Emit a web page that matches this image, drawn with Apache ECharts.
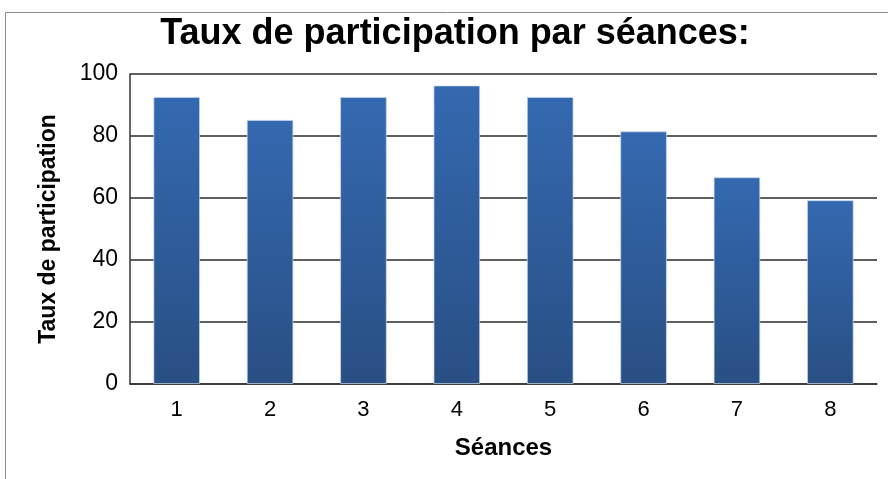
<!DOCTYPE html>
<html>
<head>
<meta charset="utf-8">
<script src="https://cdn.jsdelivr.net/npm/echarts@6/dist/echarts.min.js"></script>
<style>
  html, body { margin: 0; padding: 0; background: #fff; }
  #chart { width: 888px; height: 479px; }
</style>
</head>
<body>
<div id="chart"></div>
<script>
// séances et taux de participation (%)
var seances = ['1', '2', '3', '4', '5', '6', '7', '8'];
var taux = [92.6, 85.2, 92.6, 96.3, 92.6, 81.5, 66.7, 59.3];
var yTicks = [0, 20, 40, 60, 80, 100];

var myChart = echarts.init(document.getElementById('chart'));
var fontFam = '"Liberation Sans", Arial, sans-serif';

var option = {
  animation: false,
  backgroundColor: '#fff',
  graphic: [
    {
      type: 'rect',
      shape: { x: 5.5, y: 12.5, width: 900, height: 500 },
      style: { fill: 'none', stroke: '#8c8c8c', lineWidth: 1 },
      silent: true
    }
  ],
  title: {
    text: 'Taux de participation par séances:',
    left: 450,
    top: 11,
    textAlign: 'center',
    textStyle: { fontFamily: fontFam, fontSize: 36, fontWeight: 'bold', color: '#000' }
  },
  grid: { left: 130, right: 11, top: 74, bottom: 95 },
  xAxis: {
    type: 'category',
    data: seances,
    name: 'Séances',
    nameLocation: 'middle',
    nameGap: 52,
    nameTextStyle: { fontFamily: fontFam, fontSize: 24, fontWeight: 'bold', color: '#000' },
    axisLine: { show: true, lineStyle: { color: '#333', width: 1.5 } },
    axisTick: { show: false },
    axisLabel: { fontFamily: fontFam, fontSize: 22, color: '#000', margin: 15 },
    splitLine: { show: false }
  },
  yAxis: {
    type: 'value',
    min: 0,
    max: 100,
    interval: 20,
    name: 'Taux de participation',
    nameLocation: 'middle',
    nameGap: 70,
    nameTextStyle: { fontFamily: fontFam, fontSize: 23, fontWeight: 'bold', color: '#000' },
    axisLine: { show: true, lineStyle: { color: '#333', width: 1.5 } },
    axisTick: { show: false },
    axisLabel: {
      fontFamily: fontFam, fontSize: 23, color: '#000', margin: 12,
      formatter: function (v) { return yTicks.indexOf(v) >= 0 ? String(v) : ''; }
    },
    splitLine: { show: true, lineStyle: { color: '#2a2a2a', width: 1.5 } }
  },
  series: [
    {
      type: 'bar',
      data: taux,
      barWidth: '50%',
      itemStyle: {
        color: new echarts.graphic.LinearGradient(0, 0, 0, 1, [
          { offset: 0, color: '#3469b0' },
          { offset: 1, color: '#294f84' }
        ]),
        borderColor: 'rgba(200,215,240,0.7)',
        borderWidth: 1
      }
    }
  ]
};

myChart.setOption(option);
</script>
</body>
</html>
